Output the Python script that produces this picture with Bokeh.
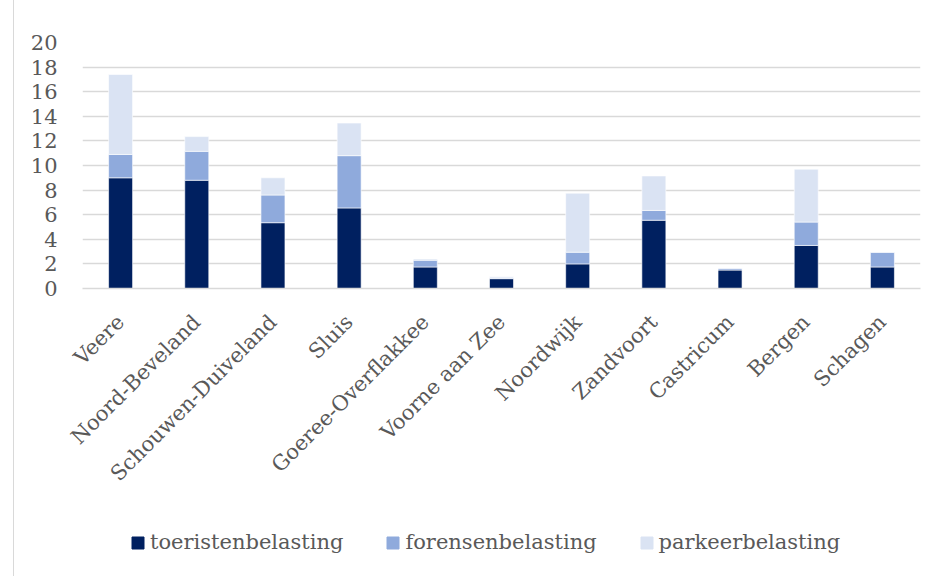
import numpy as np
from bokeh.plotting import figure
from bokeh.layouts import column
from bokeh.models import FactorRange, Legend, LegendItem, ColumnDataSource, Range1d
from bokeh.embed import file_html
from bokeh.resources import INLINE

categories = ["Veere", "Noord-Beveland", "Schouwen-Duiveland", "Sluis", "Goeree-Overflakkee",
              "Voorne aan Zee", "Noordwijk", "Zandvoort", "Castricum", "Bergen", "Schagen"]
toeristenbelasting = [9.0, 8.8, 5.35, 6.55, 1.75, 0.8, 2.0, 5.55, 1.5, 3.5, 1.75]
forensenbelasting = [1.9, 2.35, 2.25, 4.25, 0.55, 0.05, 0.95, 0.8, 0.15, 1.9, 1.2]
parkeerbelasting = [6.5, 1.2, 1.4, 2.65, 0.1, 0.1, 4.8, 2.8, 0.0, 4.3, 0.0]
series = ["toeristenbelasting", "forensenbelasting", "parkeerbelasting"]
colors = ["#002060", "#8faadc", "#dae3f3"]
y_ticks = list(range(0, 21, 2))

FONT = "DejaVu Serif"
TXT = "#595959"
GRID = "#d9d9d9"

source = ColumnDataSource(dict(cat=categories, toeristenbelasting=toeristenbelasting,
                               forensenbelasting=forensenbelasting, parkeerbelasting=parkeerbelasting))

# main chart
p = figure(x_range=FactorRange(*categories), y_range=Range1d(0, 20), width=918, height=520,
           output_backend="svg", toolbar_location=None,
           min_border_left=68, min_border_right=12, min_border_top=42, min_border_bottom=232)
p.x_range.range_padding = 0
p.outline_line_color = None

rs = p.vbar_stack(series, x="cat", width=0.315, color=colors, source=source,
                  line_color="white", line_width=0.6)

p.xgrid.grid_line_color = None
p.ygrid.grid_line_color = GRID
p.ygrid.grid_line_width = 1.5
p.yaxis.ticker = y_ticks
p.yaxis.axis_line_color = None
p.yaxis.major_tick_line_color = None
p.yaxis.minor_tick_line_color = None
p.yaxis.major_label_standoff = 19
p.yaxis.major_label_text_font = FONT
p.yaxis.major_label_text_font_size = "21px"
p.yaxis.major_label_text_color = TXT

p.xaxis.axis_line_color = GRID
p.xaxis.axis_line_width = 1.5
p.xaxis.major_tick_line_color = None
p.xaxis.major_tick_out = 0
p.xaxis.major_label_orientation = np.pi / 4
p.xaxis.major_label_standoff = 30
p.xaxis.major_label_text_font = FONT
p.xaxis.major_label_text_font_size = "21px"
p.xaxis.major_label_text_color = TXT

# legend strip below the chart (legend proxies carry no visible data)
lg = figure(x_range=Range1d(0, 1), y_range=Range1d(0, 1), width=918, height=56,
            output_backend="svg", toolbar_location=None,
            min_border_left=68, min_border_right=12, min_border_top=0, min_border_bottom=0)
lg.axis.visible = False
lg.grid.grid_line_color = None
lg.outline_line_color = None
proxy = ColumnDataSource(dict(x=[np.nan], top=[np.nan]))
dummies = [lg.vbar(x="x", top="top", width=0.1, fill_color=c, line_color=c, source=proxy)
           for c in colors]

legend = Legend(items=[LegendItem(label=s, renderers=[r], index=0) for s, r in zip(series, dummies)],
                orientation="horizontal", location=(48, 22),
                label_text_font=FONT, label_text_font_size="21px", label_text_color=TXT,
                glyph_width=15, glyph_height=15, label_standoff=5, spacing=42,
                padding=0, margin=0, border_line_color=None, background_fill_alpha=0)
lg.add_layout(legend, "center")

layout = column(p, lg, spacing=0,
                styles={"margin-left": "13px", "border-left": "1.5px solid #d9d9d9"})

open("out.html", "w").write(file_html(layout, INLINE))
